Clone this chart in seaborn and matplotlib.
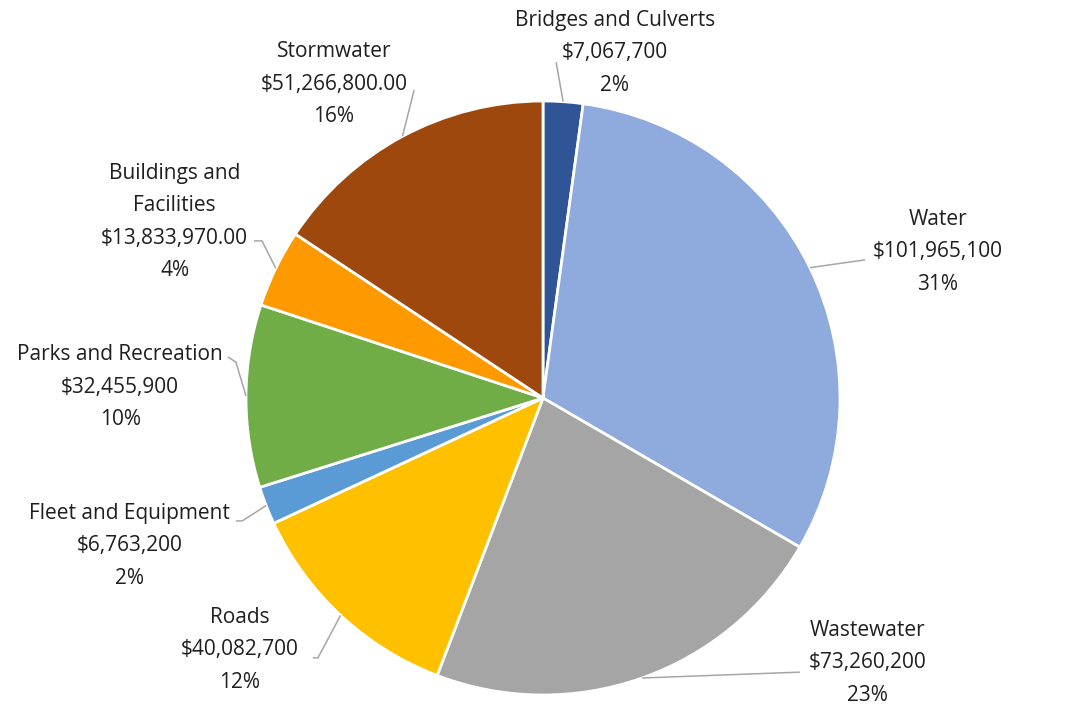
import numpy as np
import matplotlib
matplotlib.use("Agg")
import matplotlib.pyplot as plt
import seaborn as sns

# Capital program by asset class, clockwise from 12 o'clock
categories = ["Bridges and Culverts", "Water", "Wastewater", "Roads",
              "Fleet and Equipment", "Parks and Recreation",
              "Buildings and\nFacilities", "Stormwater"]
amounts = [7067700, 101965100, 73260200, 40082700,
           6763200, 32455900, 13833970, 51266800]
amount_labels = ["$7,067,700", "$101,965,100", "$73,260,200", "$40,082,700",
                 "$6,763,200", "$32,455,900", "$13,833,970.00", "$51,266,800.00"]
pct_labels = ["2%", "31%", "23%", "12%", "2%", "10%", "4%", "16%"]

colors = ["#2F5597", "#8FAADC", "#A5A5A5", "#FFC000",
          "#5B9BD5", "#70AD47", "#FF9900", "#9E480E"]

# label text centres (axes data units, radius = 1)
label_xy = [(0.242, 1.162), (1.330, 0.492), (1.094, -0.892), (-1.020, -0.848),
            (-1.391, -0.498), (-1.424, 0.037), (-1.240, 0.593), (-0.704, 1.057)]
# leader polylines: points leading from the text to the wedge edge
leader_pts = [
    [(0.044, 1.131)],
    [(1.084, 0.465)],
    [(0.865, -0.923)],
    [(-0.775, -0.875), (-0.758, -0.875)],
    [(-1.034, -0.414), (-1.013, -0.414)],
    [(-1.061, 0.138), (-1.034, 0.121)],
    [(-0.973, 0.529), (-0.946, 0.529)],
    [(-0.434, 1.037)],
]

sns.set_theme(style="white")
plt.rcParams["font.family"] = ["Open Sans", "DejaVu Sans"]

W, H, DPI = 1076, 709, 100
fig = plt.figure(figsize=(W / DPI, H / DPI), dpi=DPI)
fig.patch.set_facecolor("white")

cx, cy, r = 543, 709 - 398, 297
ax = fig.add_axes([(cx - r) / W, (cy - r) / H, 2 * r / W, 2 * r / H])

wedges, _ = ax.pie(amounts, colors=colors, startangle=90, counterclock=False,
                   radius=1.0,
                   wedgeprops=dict(edgecolor="white", linewidth=2.0))
ax.set_xlim(-1, 1)
ax.set_ylim(-1, 1)
ax.set_aspect("equal")
ax.axis("off")

for w, name, amt, pct, (tx, ty), pts in zip(wedges, categories, amount_labels,
                                              pct_labels, label_xy, leader_pts):
    mid = np.deg2rad((w.theta1 + w.theta2) / 2)
    edge = (np.cos(mid), np.sin(mid))
    xs = [p[0] for p in pts] + [edge[0]]
    ys = [p[1] for p in pts] + [edge[1]]
    ax.plot(xs, ys, color="#A6A6A6", linewidth=1.1, clip_on=False,
            solid_capstyle="butt")
    ax.text(tx, ty, f"{name}\n{amt}\n{pct}", ha="center", va="center",
            fontsize=15, color="#1F1F1F", linespacing=1.72,
            clip_on=False)

fig.savefig("out.png", dpi=DPI, facecolor="white")
